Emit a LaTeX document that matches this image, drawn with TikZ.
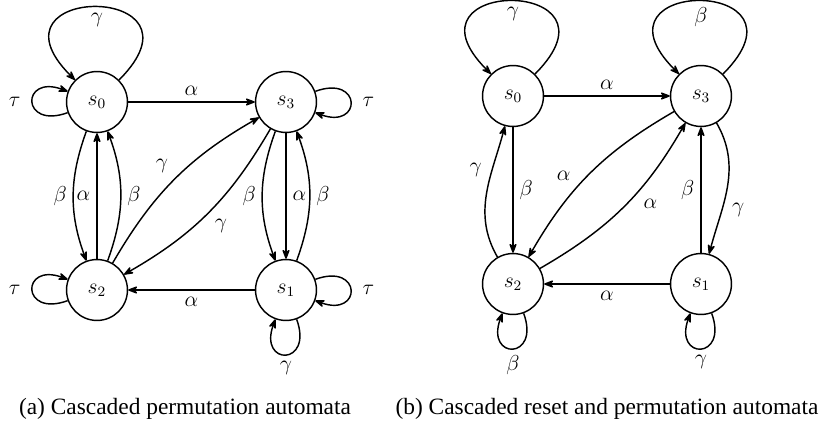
\documentclass[tikz,border=0pt]{standalone}
\usepackage[no-math]{fontspec}
\newfontfamily\capfont{Liberation Serif}
\usepackage{tikz}
\usetikzlibrary{positioning,arrows.meta,quotes}

\begin{document}
\begin{tikzpicture}[x=0.01953cm, y=-0.01953cm, ->, >={Stealth[round]}, font=\fontsize{11.5}{13}\selectfont, main/.style = {circle, draw, thick, fill=none, minimum size=1.19cm, inner sep=0pt}, every edge/.append style={thick}, subcap/.style={font=\capfont\fontsize{13}{15}\selectfont}]

\useasboundingbox (0,0) rectangle (828,427);

% (a)
\filldraw[black] (97,102) node[main, fill = white] (s0) {$s_0$};
\filldraw[black] (286,102) node[main, fill = white] (s3) {$s_3$};
\filldraw[black] (97,290) node[main, fill = white] (s2) {$s_2$};
\filldraw[black] (286,290) node[main, fill = white] (s1) {$s_1$};

\path
 (s0) edge["$\alpha$"] (s3)
 (s1) edge["$\alpha$"] (s2)
 (s0) edge[bend right=20, "$\beta$"'] (s2)
 (s2) edge["$\alpha$"] (s0)
 (s2) edge[bend right=20, "$\beta$"'] (s0)
 (s2) edge[bend left=15, "$\gamma$"] (s3)
 (s3) edge[bend left=15, "$\gamma$"] (s2)
 (s3) edge[bend right=20, "$\beta$"'] (s1)
 (s3) edge["$\alpha$"] (s1)
 (s1) edge[bend right=20, "$\beta$"'] (s3);

\path
 (s0) edge[out=45, in=135, looseness=8, "$\gamma$"] (s0)
 (s0) edge[out=200, in=160, looseness=6, "$\tau$" {xshift=-3pt}] (s0)
 (s2) edge[out=200, in=160, looseness=6, "$\tau$" {xshift=-3pt}] (s2)
 (s3) edge[out=20, in=-20, looseness=6, "$\tau$" {xshift=3pt}] (s3)
 (s1) edge[out=20, in=-20, looseness=6, "$\tau$" {xshift=3pt}] (s1)
 (s1) edge[out=-70, in=-110, looseness=6, "$\gamma$"] (s1);

\node[subcap] (capa) at (185,409) {(a) Cascaded permutation automata};

% (b)
\begin{scope}[shift = {(416,-6)}]
\filldraw[black] (97,102) node[main, fill = white] (s0) {$s_0$};
\filldraw[black] (285,102) node[main, fill = white] (s3) {$s_3$};
\filldraw[black] (97,290) node[main, fill = white] (s2) {$s_2$};
\filldraw[black] (285,290) node[main, fill = white] (s1) {$s_1$};

\path
 (s0) edge["$\alpha$"] (s3)
 (s1) edge["$\alpha$"] (s2)
 (s0) edge["$\beta$"] (s2)
 (s2) edge[out=120, in=-105, "$\gamma$", pos=0.58] (s0)
 (s3) edge[bend right=15, "$\alpha$"', pos=0.6] (s2)
 (s2) edge[bend right=15, "$\alpha$"', pos=0.6] (s3)
 (s1) edge["$\beta$"] (s3)
 (s3) edge[out=-60, in=75, "$\gamma$", pos=0.58] (s1);

\path
 (s0) edge[out=45, in=135, looseness=8, "$\gamma$"] (s0)
 (s3) edge[out=45, in=135, looseness=8, "$\beta$"] (s3)
 (s2) edge[out=-70, in=-110, looseness=6, "$\beta$"] (s2)
 (s1) edge[out=-70, in=-110, looseness=6, "$\gamma$"] (s1);
\end{scope}

\node[subcap] (capb) at (607,409) {(b) Cascaded reset and permutation automata};
\end{tikzpicture}
\end{document}
